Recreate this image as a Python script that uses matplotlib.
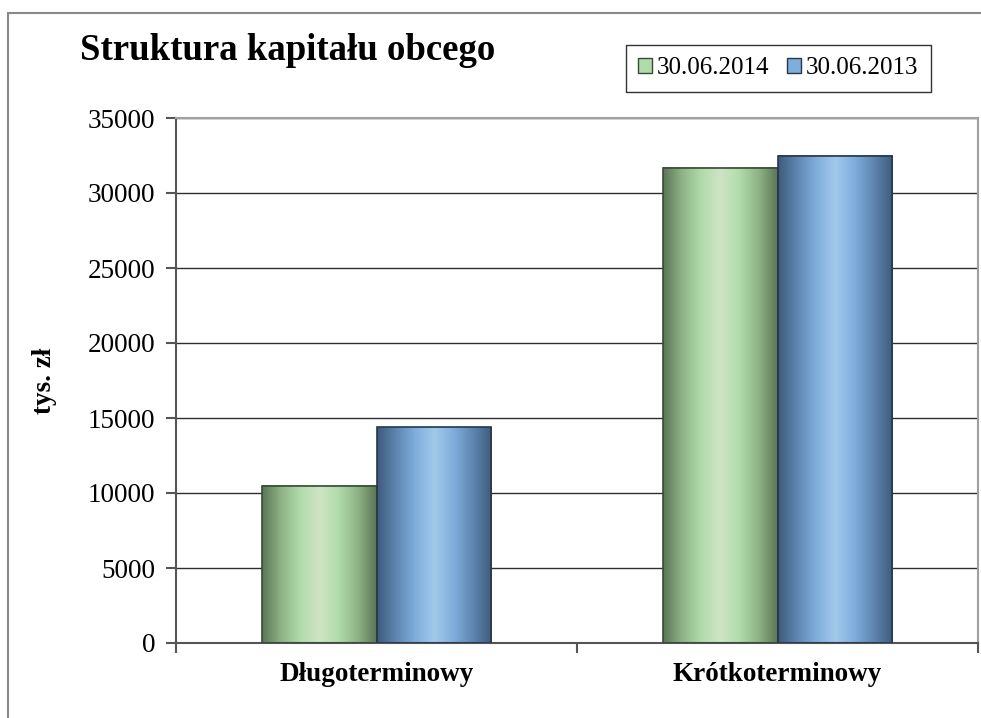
"""Struktura kapitału obcego - bar chart with gradient bars."""

import numpy as np
from matplotlib import pyplot as plt
from matplotlib.colors import LinearSegmentedColormap
from matplotlib.patches import Rectangle

categories = ['Długoterminowy', 'Krótkoterminowy']
series_names = ['30.06.2014', '30.06.2013']
values_2014 = [10500, 31700]
values_2013 = [14400, 32500]
y_ticks = [0, 5000, 10000, 15000, 20000, 25000, 30000, 35000]

plt.rcParams['font.family'] = ['Liberation Serif', 'DejaVu Serif']

green_cmap = LinearSegmentedColormap.from_list(
    'g', ['#5b7656', '#8fb386', '#b1dbab', '#cfe5c5', '#b1dbab', '#8fb386', '#5b7656'])
blue_cmap = LinearSegmentedColormap.from_list(
    'b', ['#3e5b7c', '#5f86b1', '#7eaedc', '#a2c9ea', '#7eaedc', '#5f86b1', '#3e5b7c'])
edge_colors = ['#3a4a38', '#26384d']


def gradient_bar(ax, x0, width, height, cmap, edge):
    grad = np.linspace(0, 1, 256).reshape(1, -1)
    ax.imshow(grad, cmap=cmap, aspect='auto', extent=(x0, x0 + width, 0, height),
              zorder=2, interpolation='bicubic')
    ax.add_patch(Rectangle((x0, 0), width, height, fill=False,
                           edgecolor=edge, linewidth=1.2, zorder=3))


fig = plt.figure(figsize=(9.81, 7.18), dpi=100)
# outer chart border (cropped on the right and bottom)
fig.patches.append(Rectangle((8 / 981, -0.05), 1.1, 1 - 13 / 718 + 0.05,
                             transform=fig.transFigure, fill=False,
                             edgecolor='#8a8a8a', linewidth=1.5))

ax = fig.add_axes([176 / 981, 75 / 718, 802 / 981, 525 / 718])
bar_w = 0.286
x = np.arange(len(categories))
for i in range(len(categories)):
    gradient_bar(ax, x[i] - bar_w, bar_w, values_2014[i], green_cmap, edge_colors[0])
    gradient_bar(ax, x[i], bar_w, values_2013[i], blue_cmap, edge_colors[1])

ax.set_xlim(-0.5, len(categories) - 0.5)
ax.set_ylim(0, 35000)
ax.set_yticks(y_ticks)
ax.set_yticklabels([str(t) for t in y_ticks], fontsize=19.5)
ax.yaxis.grid(True, color='#2e2e2e', linewidth=1.0)
ax.set_axisbelow(True)
ax.set_xticks(x)
ax.set_xticklabels(categories, fontsize=19.5, fontweight='bold')
ax.tick_params(axis='x', length=0, pad=14)
ax.set_xticks([-0.5, 0.5, 1.5], minor=True)
ax.tick_params(axis='x', which='minor', length=7, color='#555555', width=1.5)
ax.tick_params(axis='y', length=7, color='#555555', width=1.5, pad=8)
ax.set_ylabel('tys. zł', fontsize=19.5, fontweight='bold', labelpad=22)
for side in ['left', 'bottom']:
    ax.spines[side].set_color('#555555')
    ax.spines[side].set_linewidth(1.5)
for side in ['top', 'right']:
    ax.spines[side].set_color('#a0a0a0')
    ax.spines[side].set_linewidth(1.5)

fig.text(80 / 981, 1 - 50 / 718, 'Struktura kapitału obcego', fontsize=26.5,
         fontweight='bold', va='center', ha='left')

handles = [Rectangle((0, 0), 1, 1, facecolor='#b1dbab', edgecolor=edge_colors[0]),
           Rectangle((0, 0), 1, 1, facecolor='#7eaedc', edgecolor=edge_colors[1])]
fig.legend(handles, series_names, loc='center', ncol=2,
           bbox_to_anchor=(778 / 981, 1 - 68 / 718), fontsize=18,
           frameon=True, fancybox=False, edgecolor='#333333',
           handlelength=0.55, handleheight=0.55, handletextpad=0.2,
           columnspacing=0.7, borderpad=0.5, framealpha=1)

plt.savefig('out.png', dpi=100)
